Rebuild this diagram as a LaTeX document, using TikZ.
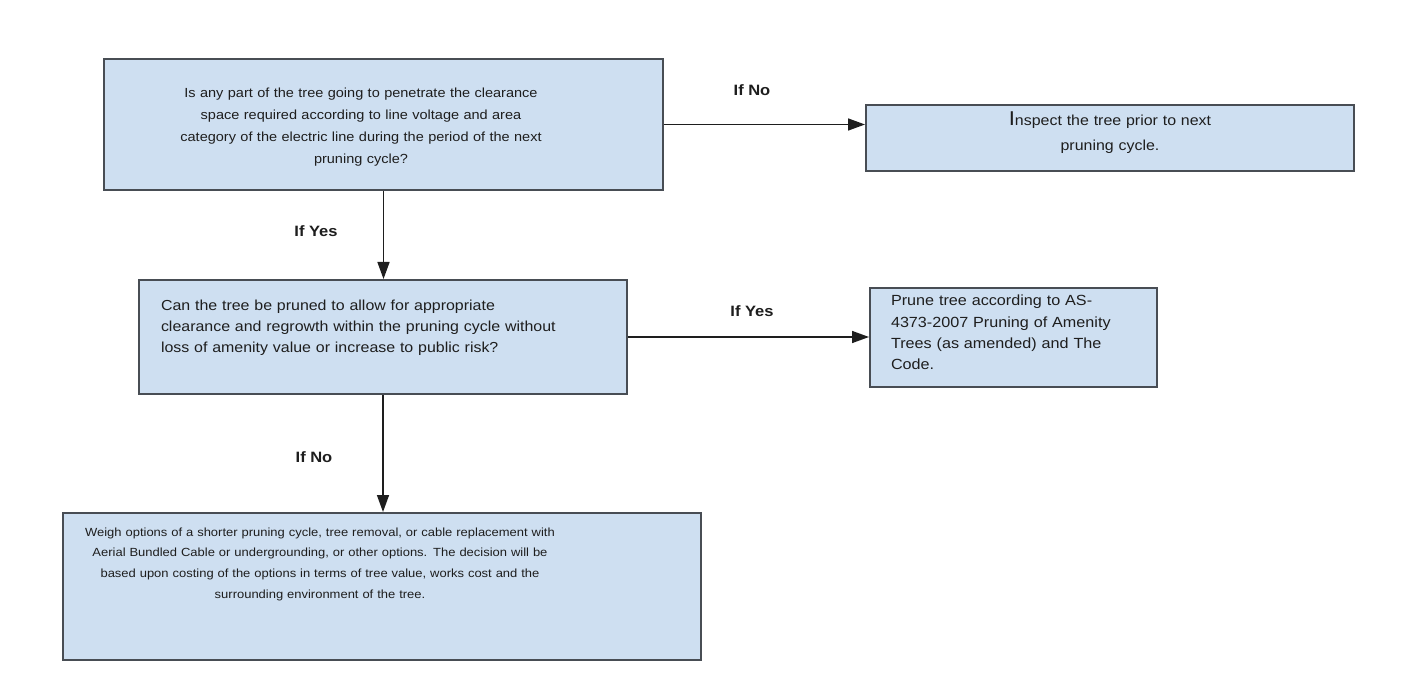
\documentclass[tikz,border=0pt]{standalone}
\usepackage{fontspec}
\setmainfont[FakeStretch=1.1]{Liberation Sans}
\usetikzlibrary{arrows.meta}
\definecolor{boxfill}{RGB}{206,223,241}
\definecolor{boxline}{RGB}{72,77,84}
\definecolor{inktext}{RGB}{30,30,30}
\tikzset{
  flowbox/.style={draw=boxline,line width=2pt,fill=boxfill,anchor=north west,inner ysep=0pt,text=inktext},
  branch/.style={anchor=base,font=\bfseries\fontsize{15}{18}\selectfont,text=inktext},
  flowarrow/.style={-{Triangle[length=17pt,width=12pt]},line width=1.5pt,draw=inktext}
}
\begin{document}
\begin{tikzpicture}[x=1pt,y=-1pt]
\fill[white] (0,0) rectangle (1416,700);
\useasboundingbox (0,0) rectangle (1416,700);
% question boxes
\node[flowbox,inner xsep=10pt,text width=539pt,text height=39pt,text depth=92pt,font=\fontsize{13.2}{22}\selectfont] (q1) at (103,58)
  {\centering\rightskip=45pt plus 1fil
   Is any part of the tree going to penetrate the clearance\\space required according to line voltage and area\\category of the electric line during the period of the next\\pruning cycle?\par};
\node[flowbox,inner xsep=10pt,text width=468pt,text height=21pt,text depth=45pt,align=center,font=\fontsize{14.5}{25}\selectfont] (q2) at (865,104)
  {{\fontsize{20}{25}\selectfont I}nspect the tree prior to next\\pruning cycle.};
\node[flowbox,inner xsep=22pt,text width=444pt,text height=31pt,text depth=83pt,align=left,font=\fontsize{14.5}{21}\selectfont] (q3) at (138,279)
  {Can the tree be pruned to allow for appropriate\\clearance and regrowth within the pruning cycle without\\loss of amenity value or increase to public risk?};
\node[flowbox,inner xsep=21pt,text width=245pt,text height=18pt,text depth=81pt,align=left,font=\fontsize{14.7}{21.3}\selectfont] (q4) at (869,287)
  {Prune tree according to AS-\\4373-2007 Pruning of Amenity\\Trees (as amended) and The\\Code.};
\node[flowbox,inner xsep=10pt,text width=618pt,text height=23pt,text depth=124pt,font=\fontsize{11.8}{20.7}\selectfont] (q5) at (62,512)
  {\centering\rightskip=124pt plus 1fil
   Weigh options of a shorter pruning cycle, tree removal, or cable replacement with\\Aerial Bundled Cable or undergrounding, or other options. The decision will be\\based upon costing of the options in terms of tree value, works cost and the\\surrounding environment of the tree.\par};
% connectors
\draw[flowarrow] (q1.east) -- (q1.east -| q2.west);
\draw[flowarrow] (q1.south) -- (q1.south |- q3.north);
\draw[flowarrow] (q3.east) -- (q3.east -| q4.west);
\draw[flowarrow] (q3.south) -- (q3.south |- q5.north);
% branch labels
\node[branch] (no1) at (752,96) {If No};
\node[branch] (yes1) at (316,237) {If Yes};
\node[branch] (yes2) at (752,317) {If Yes};
\node[branch] (no2) at (314,462) {If No};
\end{tikzpicture}
\end{document}
